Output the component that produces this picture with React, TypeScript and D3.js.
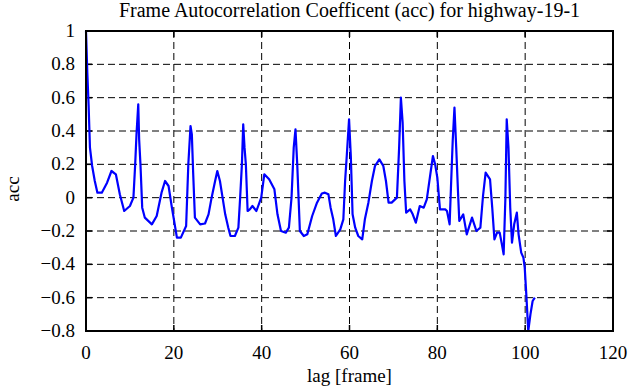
import { useEffect, useRef } from 'react';
import * as d3 from 'd3';

// lag [frame] and acc
const lags = [
  0, 0.3, 0.6, 0.9, 1.4, 2.0, 2.6, 3.6, 4.8, 5.8, 6.8, 7.7, 8.7, 10.0, 10.8, 11.2, 11.5, 11.9, 12.1,
  12.4, 12.8, 13.4, 15.0, 16.1, 17.2, 18.0, 18.8, 19.5, 20.7, 21.6, 22.8, 23.3, 23.8, 24.1, 24.4,
  24.8, 26.0, 27.1, 27.9, 28.6, 29.4, 29.9, 30.5, 31.1, 31.7, 32.4, 32.9, 33.9, 34.7, 35.1, 35.5,
  35.8, 36.1, 36.4, 36.8, 37.3, 37.9, 38.8, 39.9, 40.6, 41.7, 42.9, 43.6, 44.4, 45.5, 46.2, 46.8,
  47.3, 47.7, 48.1, 48.7, 49.6, 50.4, 51.5, 52.6, 53.7, 54.4, 55.2, 55.7, 56.3, 56.9, 57.9, 58.6,
  59.0, 59.4, 59.9, 60.3, 60.7, 61.3, 62.0, 62.9, 63.5, 64.3, 65.1, 65.8, 66.8, 67.7, 68.3, 68.9,
  69.6, 70.8, 71.3, 71.7, 72.1, 72.5, 72.9, 73.8, 74.4, 75.1, 76.0, 76.9, 77.6, 78.4, 79.0, 79.5,
  80.0, 80.6, 81.8, 82.2, 82.8, 83.1, 83.5, 83.9, 84.3, 84.7, 85.0, 85.9, 86.7, 87.9, 88.9, 89.8,
  90.4, 91.0, 92.0, 92.5, 93.0, 93.6, 94.2, 94.7, 95.1, 95.5, 95.8, 96.2, 96.6, 97.0, 97.5, 98.1,
  98.5, 99.1, 99.6, 99.9, 100.3, 100.7, 101.2, 101.7, 102.2,
];

const acc = [
  1.0, 0.75, 0.55, 0.3, 0.19, 0.1, 0.03, 0.03, 0.09, 0.16, 0.14, 0.02, -0.08, -0.05, 0.0, 0.2, 0.38, 0.56, 0.35,
  0.2, -0.06, -0.12, -0.16, -0.11, 0.03, 0.1, 0.07, -0.05, -0.24, -0.24, -0.17, 0.2, 0.43, 0.38, 0.15,
  -0.12, -0.16, -0.155, -0.1, 0.0, 0.1, 0.16, 0.1, 0.0, -0.1, -0.18, -0.23, -0.23, -0.18, 0.0, 0.2,
  0.44, 0.3, 0.2, -0.08, -0.07, -0.05, -0.08, 0.0, 0.14, 0.11, 0.05, -0.1, -0.2, -0.21, -0.18, 0.0,
  0.3, 0.41, 0.2, -0.2, -0.23, -0.22, -0.11, -0.03, 0.025, 0.03, 0.02, -0.06, -0.13, -0.23, -0.19, -0.13,
  0.1, 0.26, 0.47, 0.25, -0.1, -0.18, -0.23, -0.25, -0.13, -0.03, 0.1, 0.19, 0.23, 0.19, 0.1, -0.03,
  -0.03, 0.0, 0.3, 0.6, 0.45, 0.1, -0.09, -0.07, -0.1, -0.15, -0.05, -0.06, -0.01, 0.14, 0.25, 0.2,
  0.12, -0.07, -0.07, -0.08, -0.16, 0.06, 0.34, 0.54, 0.3, 0.04, -0.14, -0.1, -0.22, -0.12, -0.2, -0.18,
  0.01, 0.15, 0.11, -0.06, -0.25, -0.21, -0.21, -0.28, -0.34, 0.0, 0.47, 0.3, -0.06, -0.27, -0.16, -0.09,
  -0.22, -0.33, -0.36, -0.42, -0.6, -0.8, -0.7, -0.62, -0.6,
];

const xTicks = [0, 20, 40, 60, 80, 100, 120];
const yTicks = [-0.8, -0.6, -0.4, -0.2, 0, 0.2, 0.4, 0.6, 0.8, 1];

const title = 'Frame Autocorrelation Coefficent (acc) for highway-19-1';
const xLabel = 'lag [frame]';
const yLabel = 'acc';

export default function App() {
  const svgRef = useRef<SVGSVGElement | null>(null);

  useEffect(() => {
    if (!svgRef.current) return;
    const width = 635;
    const height = 387;
    const margin = { top: 31, right: 22, bottom: 56, left: 86 };
    const innerWidth = width - margin.left - margin.right;
    const innerHeight = height - margin.top - margin.bottom;
    const font = "'Liberation Serif', 'DejaVu Serif', serif";

    const svg = d3.select(svgRef.current).attr('width', width).attr('height', height);
    svg.selectAll('*').remove();

    svg.append('rect').attr('width', width).attr('height', height).attr('fill', '#ffffff');

    const g = svg.append('g').attr('transform', `translate(${margin.left},${margin.top})`);

    const x = d3.scaleLinear().domain([0, 120]).range([0, innerWidth]);
    const y = d3.scaleLinear().domain([-0.8, 1]).range([innerHeight, 0]);

    // dashed grid
    g.append('g')
      .selectAll('line')
      .data(xTicks.slice(1, -1))
      .join('line')
      .attr('x1', (d) => x(d))
      .attr('x2', (d) => x(d))
      .attr('y1', 0)
      .attr('y2', innerHeight)
      .attr('stroke', '#000')
      .attr('stroke-width', 1)
      .attr('stroke-dasharray', '7 4');

    g.append('g')
      .selectAll('line')
      .data(yTicks.slice(1, -1))
      .join('line')
      .attr('x1', 0)
      .attr('x2', innerWidth)
      .attr('y1', (d) => y(d))
      .attr('y2', (d) => y(d))
      .attr('stroke', '#000')
      .attr('stroke-width', 1)
      .attr('stroke-dasharray', '7 4');

    // inward ticks on all four sides
    const tickLen = 6;
    const ticks = g.append('g').attr('stroke', '#000').attr('stroke-width', 1.5);
    xTicks.forEach((t) => {
      ticks.append('line').attr('x1', x(t)).attr('x2', x(t)).attr('y1', innerHeight).attr('y2', innerHeight - tickLen);
      ticks.append('line').attr('x1', x(t)).attr('x2', x(t)).attr('y1', 0).attr('y2', tickLen);
    });
    yTicks.forEach((t) => {
      ticks.append('line').attr('x1', 0).attr('x2', tickLen).attr('y1', y(t)).attr('y2', y(t));
      ticks.append('line').attr('x1', innerWidth).attr('x2', innerWidth - tickLen).attr('y1', y(t)).attr('y2', y(t));
    });

    const points = lags.map((lag, i) => ({ lag, v: acc[i] }));
    const line = d3
      .line<{ lag: number; v: number }>()
      .x((p) => x(p.lag))
      .y((p) => y(p.v));

    g.append('path')
      .datum(points)
      .attr('d', line)
      .attr('fill', 'none')
      .attr('stroke', '#0000ff')
      .attr('stroke-width', 2.2)
      .attr('stroke-linejoin', 'round');

    g.append('rect')
      .attr('width', innerWidth)
      .attr('height', innerHeight)
      .attr('fill', 'none')
      .attr('stroke', '#000')
      .attr('stroke-width', 2);

    // tick labels
    g.append('g')
      .selectAll('text')
      .data(xTicks)
      .join('text')
      .attr('x', (d) => x(d))
      .attr('y', innerHeight + 28)
      .attr('text-anchor', 'middle')
      .style('font-family', font)
      .attr('font-size', 19)
      .text((d) => d3.format('')(d));

    g.append('g')
      .selectAll('text')
      .data(yTicks)
      .join('text')
      .attr('x', -11)
      .attr('y', (d) => y(d) + 6)
      .attr('text-anchor', 'end')
      .style('font-family', font)
      .attr('font-size', 19)
      .text((d) => d3.format('')(d));

    svg
      .append('text')
      .attr('x', margin.left + innerWidth / 2)
      .attr('y', 17)
      .attr('text-anchor', 'middle')
      .style('font-family', font)
      .attr('font-size', 20)
      .text(title);

    svg
      .append('text')
      .attr('x', margin.left + innerWidth / 2)
      .attr('y', 382)
      .attr('text-anchor', 'middle')
      .style('font-family', font)
      .attr('font-size', 19)
      .text(xLabel);

    svg
      .append('text')
      .attr('transform', `translate(19,${margin.top + innerHeight / 2 + 8}) rotate(-90)`)
      .attr('text-anchor', 'middle')
      .style('font-family', font)
      .attr('font-size', 19)
      .text(yLabel);
  }, []);

  return <svg ref={svgRef} style={{ position: 'absolute', left: 0, top: 0 }} />;
}
